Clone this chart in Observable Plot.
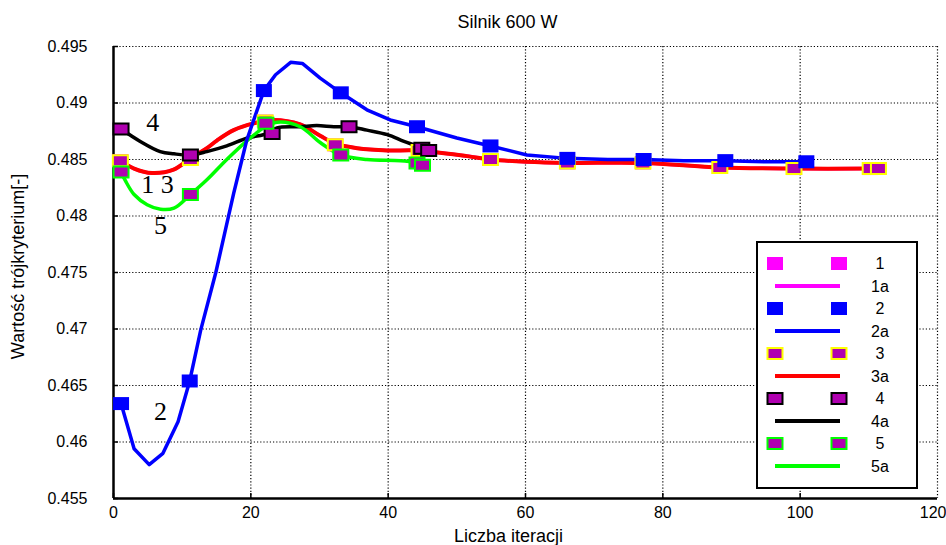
<!DOCTYPE html>
<html>
<head>
<meta charset="utf-8">
<script src="https://cdn.jsdelivr.net/npm/d3@7"></script>
<script src="https://cdn.jsdelivr.net/npm/@observablehq/plot@0.6"></script>
<style>
  html, body { margin: 0; padding: 0; background: #fff; }
  #chart { width: 946px; height: 545px; }
</style>
</head>
<body>
<div id="chart"></div>
<script>
// ---------- data ----------
const title = "Silnik 600 W";
const xLabel = "Liczba iteracji";
const yLabel = "Wartość trójkryterium[-]";

const xTicks = [0, 20, 40, 60, 80, 100, 120];
const xTickLabels = ["0", "20", "40", "60", "80", "100", "120"];
const yTicks = [0.455, 0.46, 0.465, 0.47, 0.475, 0.48, 0.485, 0.49, 0.495];
const yTickLabels = ["0.455", "0.46", "0.465", "0.47", "0.475", "0.48", "0.485", "0.49", "0.495"];

// series 1 (magenta markers, line 1a) – coincides with series 3
const marks1 = [[1.0,0.4849],[11.2,0.4850],[22.1,0.4884],[32.3,0.4863],[44.5,0.4858],[54.9,0.4850],[66.1,0.4847],[77.1,0.4847],[88.3,0.4843],[99.1,0.4842],[110.2,0.4842]];
const line1 = [[1.0,0.4849],[3.0,0.4842],[5.6,0.4838],[8.75,0.4841],[11.2,0.4851],[13.6,0.4860],[15.1,0.4867],[17.5,0.4876],[20.4,0.4882],[23.3,0.4885],[27.2,0.4881],[30.1,0.4871],[32.3,0.4864],[35.5,0.4860],[39.9,0.4858],[44.2,0.4858],[51.5,0.4853],[54.9,0.4850],[60,0.4848],[66.1,0.4847],[77.1,0.4847],[88.3,0.4843],[99.1,0.4842],[110.2,0.4842]];

// series 2 (blue)
const marks2 = [[1.1,0.4634],[11.1,0.4654],[21.9,0.4911],[33.1,0.4909],[44.2,0.4879],[54.9,0.4862],[66.1,0.4851],[77.2,0.4850],[89.1,0.4849],[100.9,0.4848]];
const line2 = [[1.1,0.4634],[3.0,0.4594],[5.2,0.4580],[7.2,0.4590],[9.4,0.4618],[11.1,0.4654],[12.7,0.4699],[14.9,0.4750],[17.5,0.4820],[19.4,0.4867],[21.9,0.4911],[23.6,0.4925],[25.8,0.4936],[27.5,0.4935],[30.1,0.4922],[33.1,0.4909],[36.9,0.4894],[40.3,0.4885],[44.2,0.4879],[50.0,0.4869],[54.9,0.4862],[60.2,0.4854],[66.1,0.4851],[72.0,0.4850],[77.2,0.4850],[83.0,0.4849],[89.1,0.4849],[95.0,0.4848],[101.0,0.4848]];

// series 3 (yellow-bordered markers, red line)
const marks3 = [[1.0,0.4849],[11.2,0.4850],[22.1,0.4884],[32.3,0.4863],[44.5,0.4858],[54.9,0.4850],[66.1,0.4847],[77.1,0.4847],[88.3,0.4843],[99.1,0.4842],[110.2,0.4842],[111.4,0.4842]];
const line3 = [[1.0,0.4849],[3.0,0.4842],[5.6,0.4838],[8.75,0.4841],[11.2,0.4851],[13.6,0.4860],[15.1,0.4867],[17.5,0.4876],[20.4,0.4882],[23.3,0.4885],[27.2,0.4881],[30.1,0.4871],[32.3,0.4864],[35.5,0.4860],[39.9,0.4858],[44.2,0.4858],[51.5,0.4853],[54.9,0.4850],[60,0.4848],[66.1,0.4847],[77.1,0.4847],[88.3,0.4843],[99.1,0.4842],[111.0,0.4842]];

// series 4 (black-bordered markers, black line)
const marks4 = [[1.1,0.4877],[11.2,0.4854],[23.1,0.4873],[34.3,0.4879],[44.9,0.4860],[45.9,0.4858]];
const line4 = [[1.1,0.4877],[3.9,0.4866],[6.8,0.4857],[8.8,0.4855],[11.2,0.4854],[13.6,0.4857],[16.5,0.4862],[19.5,0.4869],[22.4,0.4873],[23.8,0.4878],[27.2,0.4879],[29.6,0.4880],[32.1,0.4879],[34.3,0.4879],[36.9,0.4876],[39.9,0.4872],[42.3,0.4866],[44.2,0.4862],[46.2,0.4857]];

// series 5 (green-bordered markers, green line)
const marks5 = [[1.1,0.4839],[11.2,0.4819],[22.2,0.4882],[33.1,0.4854],[44.2,0.4847],[45.0,0.4845]];
const line5 = [[1.1,0.4839],[1.75,0.4831],[3.0,0.4819],[4.9,0.4810],[6.85,0.4806],[8.8,0.4807],[11.2,0.4819],[13.6,0.4832],[16.5,0.4850],[19.5,0.4867],[21.9,0.4878],[23.8,0.4883],[27.2,0.4879],[30.1,0.4865],[33.1,0.4854],[36.9,0.4850],[41.8,0.4849],[44.7,0.4847]];

// curve annotations
const noteText = ["4", "1 3", "5", "2"];
const noteX = [5.7, 6.4, 6.85, 6.85];
const noteY = [0.48825, 0.48276, 0.4791, 0.46267];

// legend
const legendLabels = ["1", "1a", "2", "2a", "3", "3a", "4", "4a", "5", "5a"];

// ---------- styles ----------
const purple = "#b000b0";
const markerStyle = [
  {fill: "#ff00ff", stroke: "none"},
  {fill: "#0000ff", stroke: "none"},
  {fill: purple, stroke: "#ffff00"},
  {fill: purple, stroke: "#000000"},
  {fill: purple, stroke: "#00ff00"}
];
const lineColor = ["#ff00ff", "#0000ff", "#ff0000", "#000000", "#00ff00"];
const lineWidth = [3.5, 3.5, 4, 3.5, 3.5];
const lineCurve = ["catmull-rom", "linear", "catmull-rom", "catmull-rom", "catmull-rom"];

const rectSym = { draw(ctx) { ctx.rect(-7.5, -5.5, 15, 11); } };
const rectSymFull = { draw(ctx) { ctx.rect(-8, -6.5, 16, 13); } };

const px = d => d[0], py = d => d[1];

function lineMark(data, i) {
  return Plot.line(data, {x: px, y: py, stroke: lineColor[i], strokeWidth: lineWidth[i], curve: lineCurve[i]});
}
function markerMark(data, i) {
  const s = markerStyle[i];
  return Plot.dot(data, {
    x: px, y: py,
    symbol: s.stroke === "none" ? rectSymFull : rectSym,
    r: 5,
    fill: s.fill,
    stroke: s.stroke,
    strokeWidth: s.stroke === "none" ? 0 : 2
  });
}

const chart = Plot.plot({
  width: 946,
  height: 545,
  marginLeft: 113,
  marginRight: 9,
  marginTop: 46,
  marginBottom: 47,
  style: {fontFamily: "'Liberation Sans', Arial, sans-serif", fontSize: "16px", color: "#000", background: "#fff"},
  x: {domain: [0, 120]},
  y: {domain: [0.455, 0.495]},
  marks: [
    Plot.gridX({ticks: xTicks.slice(1), stroke: "#000", strokeOpacity: 1, strokeWidth: 1.2, strokeDasharray: "1.2,2"}),
    Plot.gridY({ticks: yTicks.slice(1), stroke: "#000", strokeOpacity: 1, strokeWidth: 1.2, strokeDasharray: "1.2,2"}),
    Plot.axisX({ticks: xTicks.slice(0, -1), tickFormat: (d, i) => xTickLabels[i], tickSize: 5, dy: -5, tickPadding: 8, strokeWidth: 1.5, fontSize: 16, label: null}),
    Plot.axisX({ticks: xTicks.slice(-1), tickFormat: () => xTickLabels[xTickLabels.length - 1], tickSize: 0, tickPadding: 8, textAnchor: "end", dx: 9, fontSize: 16, label: null}),
    Plot.axisY({ticks: yTicks, tickFormat: (d, i) => yTickLabels[i], tickSize: 5, dx: 5, tickPadding: 26, strokeWidth: 1.5, fontSize: 16, label: null}),
    Plot.ruleX([0], {stroke: "#000", strokeWidth: 2.5}),
    Plot.ruleY([0.455], {stroke: "#000", strokeWidth: 2.5}),
    lineMark(line1, 0),
    lineMark(line3, 2),
    lineMark(line4, 3),
    lineMark(line5, 4),
    lineMark(line2, 1),
    markerMark(marks1, 0),
    markerMark(marks3, 2),
    markerMark(marks4, 3),
    markerMark(marks5, 4),
    markerMark(marks2, 1),
    Plot.text(noteText, {x: (d, i) => noteX[i], y: (d, i) => noteY[i], text: d => d, fontFamily: "'Liberation Serif', 'Times New Roman', serif", fontSize: 26, fill: "#000"}),
    Plot.text([title], {frameAnchor: "top", dy: -31, dx: -18, fontSize: 18}),
    Plot.text([xLabel], {frameAnchor: "bottom", dy: 43, dx: -17, fontSize: 18}),
    Plot.text([yLabel], {frameAnchor: "left", textAnchor: "middle", dx: -95, dy: -6, rotate: -90, fontSize: 18})
  ]
});

// legend box inside the plot area
const svg = d3.select(chart.tagName.toLowerCase() === "svg" ? chart : chart.querySelector("svg"));
const lg = svg.append("g");
lg.append("rect").attr("x", 757).attr("y", 242).attr("width", 160).attr("height", 246)
  .attr("fill", "#fff").attr("stroke", "#000").attr("stroke-width", 2);
legendLabels.forEach((lab, k) => {
  const i = Math.floor(k / 2);
  const y = 263.5 + k * 22.5;
  if (k % 2 === 0) {
    const s = markerStyle[i];
    [775, 839].forEach(cx => {
      if (s.stroke === "none") {
        lg.append("rect").attr("x", cx - 8).attr("y", y - 6.5).attr("width", 16).attr("height", 13).attr("fill", s.fill);
      } else {
        lg.append("rect").attr("x", cx - 7.5).attr("y", y - 5.5).attr("width", 15).attr("height", 11)
          .attr("fill", s.fill).attr("stroke", s.stroke).attr("stroke-width", 2);
      }
    });
  } else {
    lg.append("line").attr("x1", 775).attr("x2", 840).attr("y1", y).attr("y2", y)
      .attr("stroke", lineColor[i]).attr("stroke-width", 4);
  }
  lg.append("text").attr("x", 880).attr("y", y).attr("dy", "0.35em")
    .attr("font-size", 16).attr("fill", "#000").text(lab);
});

document.getElementById("chart").appendChild(chart);
</script>
</body>
</html>
